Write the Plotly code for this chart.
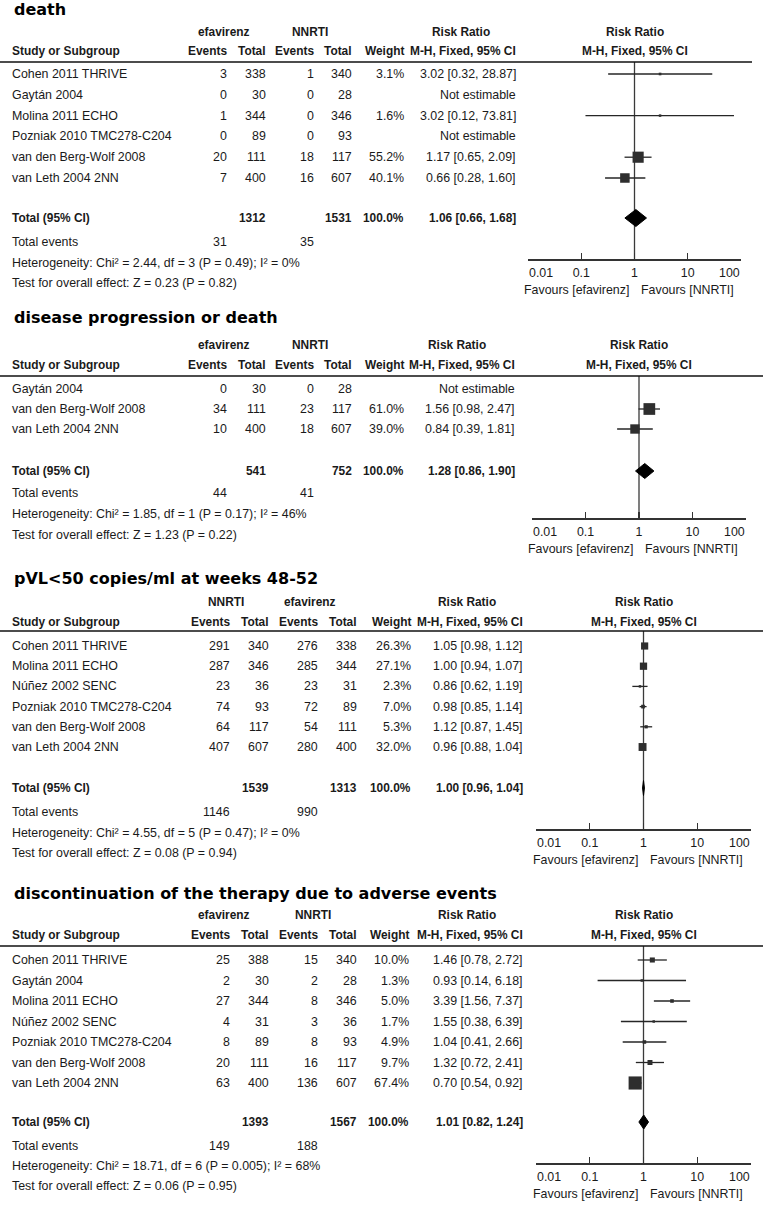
import plotly.graph_objects as go
import math

W, H = 763, 1205

# ---------------- data ----------------
# Panel 1: death (efavirenz vs NNRTI)
p1_title = "death"
p1_groups = ["efavirenz", "NNRTI"]
p1_studies = ["Cohen 2011 THRIVE", "Gaytán 2004", "Molina 2011 ECHO", "Pozniak 2010 TMC278-C204",
              "van den Berg-Wolf 2008", "van Leth 2004 2NN"]
p1_events_a = [3, 0, 1, 0, 20, 7]
p1_total_a = [338, 30, 344, 89, 111, 400]
p1_events_b = [1, 0, 0, 0, 18, 16]
p1_total_b = [340, 28, 346, 93, 117, 607]
p1_weight = [3.1, None, 1.6, None, 55.2, 40.1]
p1_rr = [3.02, None, 3.02, None, 1.17, 0.66]
p1_lo = [0.32, None, 0.12, None, 0.65, 0.28]
p1_hi = [28.87, None, 73.81, None, 2.09, 1.60]
p1_total = [1312, 1531]
p1_total_events = [31, 35]
p1_pooled = [1.06, 0.66, 1.68]
p1_het = "Heterogeneity: Chi² = 2.44, df = 3 (P = 0.49); I² = 0%"
p1_test = "Test for overall effect: Z = 0.23 (P = 0.82)"

# Panel 2: disease progression or death
p2_title = "disease progression or death"
p2_groups = ["efavirenz", "NNRTI"]
p2_studies = ["Gaytán 2004", "van den Berg-Wolf 2008", "van Leth 2004 2NN"]
p2_events_a = [0, 34, 10]
p2_total_a = [30, 111, 400]
p2_events_b = [0, 23, 18]
p2_total_b = [28, 117, 607]
p2_weight = [None, 61.0, 39.0]
p2_rr = [None, 1.56, 0.84]
p2_lo = [None, 0.98, 0.39]
p2_hi = [None, 2.47, 1.81]
p2_total = [541, 752]
p2_total_events = [44, 41]
p2_pooled = [1.28, 0.86, 1.90]
p2_het = "Heterogeneity: Chi² = 1.85, df = 1 (P = 0.17); I² = 46%"
p2_test = "Test for overall effect: Z = 1.23 (P = 0.22)"

# Panel 3: pVL<50 copies/ml at weeks 48-52 (NNRTI vs efavirenz)
p3_title = "pVL<50 copies/ml at weeks 48-52"
p3_groups = ["NNRTI", "efavirenz"]
p3_studies = ["Cohen 2011 THRIVE", "Molina 2011 ECHO", "Núñez 2002 SENC", "Pozniak 2010 TMC278-C204",
              "van den Berg-Wolf 2008", "van Leth 2004 2NN"]
p3_events_a = [291, 287, 23, 74, 64, 407]
p3_total_a = [340, 346, 36, 93, 117, 607]
p3_events_b = [276, 285, 23, 72, 54, 280]
p3_total_b = [338, 344, 31, 89, 111, 400]
p3_weight = [26.3, 27.1, 2.3, 7.0, 5.3, 32.0]
p3_rr = [1.05, 1.00, 0.86, 0.98, 1.12, 0.96]
p3_lo = [0.98, 0.94, 0.62, 0.85, 0.87, 0.88]
p3_hi = [1.12, 1.07, 1.19, 1.14, 1.45, 1.04]
p3_total = [1539, 1313]
p3_total_events = [1146, 990]
p3_pooled = [1.00, 0.96, 1.04]
p3_het = "Heterogeneity: Chi² = 4.55, df = 5 (P = 0.47); I² = 0%"
p3_test = "Test for overall effect: Z = 0.08 (P = 0.94)"

# Panel 4: discontinuation of the therapy due to adverse events
p4_title = "discontinuation of the therapy due to adverse events"
p4_groups = ["efavirenz", "NNRTI"]
p4_studies = ["Cohen 2011 THRIVE", "Gaytán 2004", "Molina 2011 ECHO", "Núñez 2002 SENC",
              "Pozniak 2010 TMC278-C204", "van den Berg-Wolf 2008", "van Leth 2004 2NN"]
p4_events_a = [25, 2, 27, 4, 8, 20, 63]
p4_total_a = [388, 30, 344, 31, 89, 111, 400]
p4_events_b = [15, 2, 8, 3, 8, 16, 136]
p4_total_b = [340, 28, 346, 36, 93, 117, 607]
p4_weight = [10.0, 1.3, 5.0, 1.7, 4.9, 9.7, 67.4]
p4_rr = [1.46, 0.93, 3.39, 1.55, 1.04, 1.32, 0.70]
p4_lo = [0.78, 0.14, 1.56, 0.38, 0.41, 0.72, 0.54]
p4_hi = [2.72, 6.18, 7.37, 6.39, 2.66, 2.41, 0.92]
p4_total = [1393, 1567]
p4_total_events = [149, 188]
p4_pooled = [1.01, 0.82, 1.24]
p4_het = "Heterogeneity: Chi² = 18.71, df = 6 (P = 0.005); I² = 68%"
p4_test = "Test for overall effect: Z = 0.06 (P = 0.95)"

tick_vals = [0.01, 0.1, 1, 10, 100]
tick_labels = ["0.01", "0.1", "1", "10", "100"]
favours = ["Favours [efavirenz]", "Favours [NNRTI]"]

# ---------------- layout (pixel positions) ----------------
panels = [
    dict(title=p1_title, groups=p1_groups, studies=p1_studies, ea=p1_events_a, ta=p1_total_a,
         eb=p1_events_b, tb=p1_total_b, w=p1_weight, rr=p1_rr, lo=p1_lo, hi=p1_hi, tot=p1_total,
         tev=p1_total_events, pooled=p1_pooled, het=p1_het, test=p1_test,
         y_title=10, y_group=32, y_head=51, y_line=62, line_end=752, y_row0=74, row_step=20.8,
         y_total=218, y_events=242, y_het=263, y_test=283, y_axis=259,
         x0=528, x1=741, cols=dict(e1=228, t1=267, e2=315, t2=353, w=405, rr=517, g1=224, g2=310, rrh=461),
         sq=1.5, dh=8.5),
    dict(title=p2_title, groups=p2_groups, studies=p2_studies, ea=p2_events_a, ta=p2_total_a,
         eb=p2_events_b, tb=p2_total_b, w=p2_weight, rr=p2_rr, lo=p2_lo, hi=p2_hi, tot=p2_total,
         tev=p2_total_events, pooled=p2_pooled, het=p2_het, test=p2_test,
         y_title=318, y_group=345, y_head=365, y_line=376, line_end=763, y_row0=389, row_step=20,
         y_total=471, y_events=493, y_het=514, y_test=535, y_axis=518,
         x0=532, x1=746, cols=dict(e1=228, t1=267, e2=315, t2=353, w=405, rr=516, g1=224, g2=310, rrh=457),
         sq=1.5, dh=7.5),
    dict(title=p3_title, groups=p3_groups, studies=p3_studies, ea=p3_events_a, ta=p3_total_a,
         eb=p3_events_b, tb=p3_total_b, w=p3_weight, rr=p3_rr, lo=p3_lo, hi=p3_hi, tot=p3_total,
         tev=p3_total_events, pooled=p3_pooled, het=p3_het, test=p3_test,
         y_title=578, y_group=602, y_head=622, y_line=631, line_end=763, y_row0=646, row_step=20.2,
         y_total=788, y_events=812, y_het=833, y_test=853, y_axis=829,
         x0=536, x1=751, cols=dict(e1=231, t1=270, e2=319, t2=358, w=412, rr=524, g1=226, g2=310, rrh=467),
         sq=1.4, dh=7.5),
    dict(title=p4_title, groups=p4_groups, studies=p4_studies, ea=p4_events_a, ta=p4_total_a,
         eb=p4_events_b, tb=p4_total_b, w=p4_weight, rr=p4_rr, lo=p4_lo, hi=p4_hi, tot=p4_total,
         tev=p4_total_events, pooled=p4_pooled, het=p4_het, test=p4_test,
         y_title=893, y_group=915, y_head=935, y_line=946, line_end=763, y_row0=960, row_step=20.5,
         y_total=1122, y_events=1146, y_het=1166, y_test=1186, y_axis=1163,
         x0=536, x1=751, cols=dict(e1=231, t1=270, e2=319, t2=358, w=410, rr=524, g1=224, g2=313, rrh=467),
         sq=1.6, dh=7),
]

SANS = "Liberation Sans, Arial, sans-serif"
TXT = dict(family=SANS, size=12.4, color="#1a1a1a")
BOLD = dict(family=SANS, size=11.9, color="#1a1a1a")
TITLE = dict(family="DejaVu Sans, Verdana", size=16, color="#000000")
NAME_X = 11
TITLE_X = 13


def pxx(x):
    return x / W


def pyy(y):
    return 1 - y / H


annotations = []
shapes = []
fig = go.Figure()


def text(x, y, s, anchor="left", bold=False, font=None):
    f = font or (BOLD if bold else TXT)
    annotations.append(dict(
        x=pxx(x), y=pyy(y), xref="paper", yref="paper",
        text=f"<b>{s}</b>" if bold else s, showarrow=False,
        xanchor=anchor, yanchor="middle", font=f, borderpad=0))


def fmt_ci(r, l, h):
    return "Not estimable" if r is None else f"{r:.2f} [{l:.2f}, {h:.2f}]"


layout_axes = {}
for i, p in enumerate(panels, start=1):
    xa = "x" if i == 1 else f"x{i}"
    ya = "y" if i == 1 else f"y{i}"
    xkey = "xaxis" if i == 1 else f"xaxis{i}"
    ykey = "yaxis" if i == 1 else f"yaxis{i}"
    c = p["cols"]

    # titles / headers
    text(TITLE_X, p["y_title"], p["title"], bold=True, font=TITLE)
    text(c["g1"], p["y_group"], p["groups"][0], anchor="center", bold=True)
    text(c["g2"], p["y_group"], p["groups"][1], anchor="center", bold=True)
    text(c["rrh"], p["y_group"], "Risk Ratio", anchor="center", bold=True)
    text(NAME_X, p["y_head"], "Study or Subgroup", bold=True)
    for key, lab in [("e1", "Events"), ("t1", "Total"), ("e2", "Events"), ("t2", "Total"), ("w", "Weight"),
                     ("rr", "M-H, Fixed, 95% CI")]:
        text(c[key], p["y_head"], lab, anchor="right", bold=True)
    # plot column headers, centred on the line of no effect (log10(1) = 0 for annotations)
    for yy, lab in [(p["y_group"], "Risk Ratio"), (p["y_head"], "M-H, Fixed, 95% CI")]:
        annotations.append(dict(x=0, xref=xa, y=pyy(yy), yref="paper", text=f"<b>{lab}</b>",
                                showarrow=False, xanchor="center", yanchor="middle", font=BOLD, borderpad=0))
    shapes.append(dict(type="line", xref="paper", yref="paper", x0=0, x1=pxx(p["line_end"]),
                       y0=pyy(p["y_line"]), y1=pyy(p["y_line"]), line=dict(color="#111111", width=1.6)))

    # study rows
    row_y = [p["y_row0"] + k * p["row_step"] for k in range(len(p["studies"]))]
    for k, name in enumerate(p["studies"]):
        y = row_y[k]
        text(NAME_X, y, name)
        text(c["e1"], y, str(p["ea"][k]), anchor="right")
        text(c["t1"], y, str(p["ta"][k]), anchor="right")
        text(c["e2"], y, str(p["eb"][k]), anchor="right")
        text(c["t2"], y, str(p["tb"][k]), anchor="right")
        if p["w"][k] is not None:
            text(c["w"], y, f"{p['w'][k]:.1f}%", anchor="right")
        text(c["rr"], y, fmt_ci(p["rr"][k], p["lo"][k], p["hi"][k]), anchor="right")

    # totals
    text(NAME_X, p["y_total"], "Total (95% CI)", bold=True)
    text(c["t1"], p["y_total"], str(p["tot"][0]), anchor="right", bold=True)
    text(c["t2"], p["y_total"], str(p["tot"][1]), anchor="right", bold=True)
    text(c["w"], p["y_total"], "100.0%", anchor="right", bold=True)
    text(c["rr"], p["y_total"], fmt_ci(*p["pooled"]), anchor="right", bold=True)
    text(NAME_X, p["y_events"], "Total events")
    text(c["e1"], p["y_events"], str(p["tev"][0]), anchor="right")
    text(c["e2"], p["y_events"], str(p["tev"][1]), anchor="right")
    text(NAME_X, p["y_het"], p["het"])
    text(NAME_X, p["y_test"], p["test"])

    # forest marks
    est = [(r, l, h, w, y) for r, l, h, w, y in zip(p["rr"], p["lo"], p["hi"], p["w"], row_y) if r is not None]
    cx, cy = [], []
    for r, l, h, w, y in est:
        cx += [l, h, None]
        cy += [y, y, None]
    fig.add_trace(go.Scatter(x=cx, y=cy, mode="lines", line=dict(color="#262626", width=1.3),
                             xaxis=xa, yaxis=ya, hoverinfo="skip", showlegend=False))
    fig.add_trace(go.Scatter(x=[e[0] for e in est], y=[e[4] for e in est], mode="markers",
                             marker=dict(symbol="square", color="#2e2e2e", opacity=1,
                                         size=[max(2.5, p["sq"] * e[3] ** 0.5) for e in est],
                                         line=dict(width=0)),
                             xaxis=xa, yaxis=ya, hoverinfo="skip", showlegend=False))
    pr, pl, ph = p["pooled"]
    yt, dh = p["y_total"], p["dh"]
    fig.add_trace(go.Scatter(x=[pl, pr, ph, pr, pl], y=[yt, yt - dh, yt, yt + dh, yt], mode="lines",
                             fill="toself", fillcolor="#000000", line=dict(color="#000000", width=1),
                             xaxis=xa, yaxis=ya, hoverinfo="skip", showlegend=False))
    shapes.append(dict(type="line", xref=xa, yref=f"{ya} domain", x0=1, x1=1, y0=0, y1=1,
                       line=dict(color="#3a3a3a", width=1.3), layer="below"))

    # favours labels
    fy = pyy(p["y_axis"] + 31)
    annotations.append(dict(x=0, xref=xa, y=fy, yref="paper", text=favours[0], showarrow=False,
                            xanchor="right", yanchor="middle", xshift=-5, font=TXT, borderpad=0))
    annotations.append(dict(x=0, xref=xa, y=fy, yref="paper", text=favours[1], showarrow=False,
                            xanchor="left", yanchor="middle", xshift=5, font=TXT, borderpad=0))

    # end tick labels are aligned inward to their ticks (left for the first, right for the last)
    ty = pyy(p["y_axis"] + 14)
    annotations.append(dict(x=math.log10(tick_vals[0]), xref=xa, y=ty, yref="paper", text=tick_labels[0],
                            showarrow=False, xanchor="left", yanchor="middle", font=TXT, borderpad=0))
    annotations.append(dict(x=math.log10(tick_vals[-1]), xref=xa, y=ty, yref="paper", text=tick_labels[-1],
                            showarrow=False, xanchor="right", yanchor="middle", font=TXT, borderpad=0))
    ticktext = [""] + tick_labels[1:-1] + [""]
    layout_axes[xkey] = dict(type="log", range=[-2, 2], domain=[pxx(p["x0"]), pxx(p["x1"])], anchor=ya,
                             tickvals=tick_vals, ticktext=ticktext, ticks="inside", ticklen=6,
                             tickcolor="#333333", tickwidth=1.3, showline=True, linecolor="#333333",
                             linewidth=1.5, showgrid=False, zeroline=False, tickfont=TXT,
                             ticklabelstandoff=2, fixedrange=True, automargin=False)
    layout_axes[ykey] = dict(domain=[pyy(p["y_axis"]), pyy(p["y_line"])], range=[p["y_axis"], p["y_line"]],
                             anchor=xa, visible=False, showgrid=False, zeroline=False, fixedrange=True,
                             automargin=False)

fig.update_layout(template="none", width=W, height=H, margin=dict(l=0, r=0, t=0, b=0, pad=0),
                  autosize=False, paper_bgcolor="white", hovermode=False,
                  plot_bgcolor="rgba(0,0,0,0)", annotations=annotations, shapes=shapes, showlegend=False,
                  **layout_axes)
fig.write_html("out.html", config={"displayModeBar": False, "staticPlot": True},
               post_script="document.body.style.margin='0px';")
